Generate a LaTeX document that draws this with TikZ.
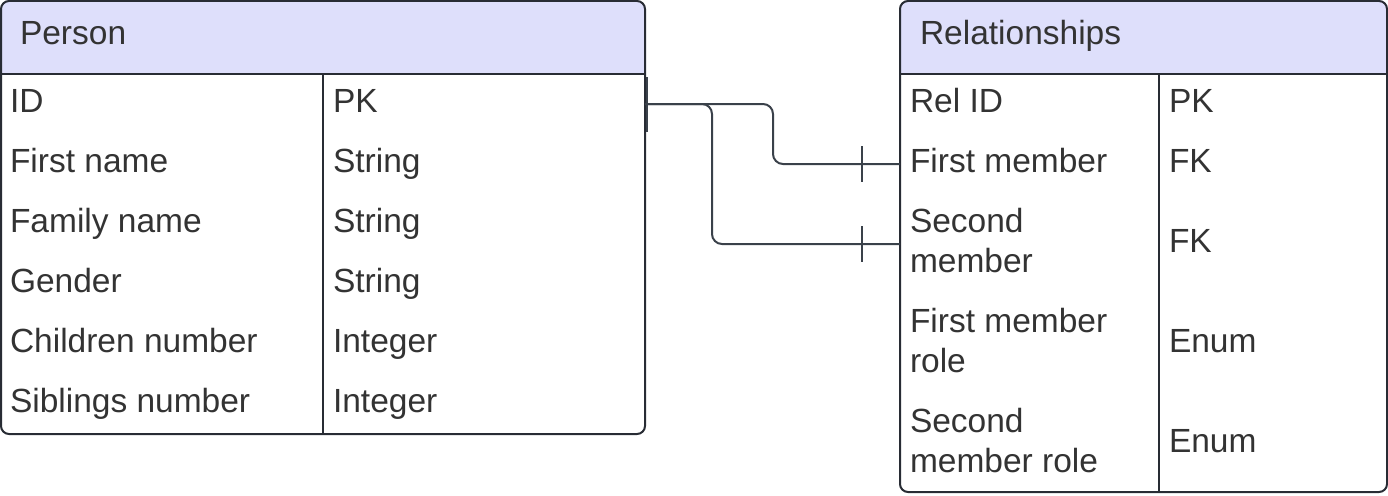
\documentclass[tikz,border=0pt]{standalone}
\usepackage{fontspec}
\setmainfont{Liberation Sans}
\definecolor{hdr}{RGB}{222,223,251}
\definecolor{ln}{RGB}{40,44,52}
\definecolor{txt}{RGB}{51,51,51}
\definecolor{cn}{RGB}{58,65,74}
\begin{document}
\begin{tikzpicture}[x=1pt,y=-1pt,
  every node/.style={font=\fontsize{33.5}{40}\selectfont, text=txt, inner sep=0pt, outer sep=0pt},
  cell/.style={anchor=base west, align=left},
  tbl/.style={draw=ln, line width=2pt, rounded corners=8pt, anchor=north west},
  rowbox/.style={anchor=north west, draw=none},
  sep/.style={draw=ln, line width=2pt},
  conn/.style={draw=cn, line width=2pt, rounded corners=10pt},
  tick/.style={draw=cn, line width=2pt}]
\useasboundingbox (0,0) rectangle (1388,495);
% header fills
\begin{scope}
  \clip[rounded corners=8pt] (1,1) rectangle (645,434);
  \fill[hdr] (1,1) rectangle (645,74);
\end{scope}
\begin{scope}
  \clip[rounded corners=8pt] (900,1) rectangle (1387,492);
  \fill[hdr] (900,1) rectangle (1387,74);
\end{scope}
% tables
\node[tbl, minimum width=644pt, minimum height=433pt] (person) at (1,1) {};
\node[tbl, minimum width=487pt, minimum height=491pt] (rel) at (900,1) {};
\draw[sep] (1,74) -- (645,74);
\draw[sep] (323,74) -- (323,434);
\draw[sep] (900,74) -- (1387,74);
\draw[sep] (1159,74) -- (1159,492);
% row anchors
\node[rowbox, minimum width=644pt, minimum height=60pt] (p-id) at (1,74) {};
\node[rowbox, minimum width=487pt, minimum height=60pt] (r-fm) at (900,134) {};
\node[rowbox, minimum width=487pt, minimum height=100pt] (r-sm) at (900,194) {};
\coordinate (x1) at (773,0);
\coordinate (x2) at (712,0);
% Person texts
\node[cell] (pt) at (20,45) {Person};
\node[cell] (p1a) at (10,112) {ID};
\node[cell] (p1b) at (333,112) {PK};
\node[cell] (p2a) at (10,172) {First name};
\node[cell] (p2b) at (333,172) {String};
\node[cell] (p3a) at (10,232) {Family name};
\node[cell] (p3b) at (333,232) {String};
\node[cell] (p4a) at (10,292) {Gender};
\node[cell] (p4b) at (333,292) {String};
\node[cell] (p5a) at (10,352) {Children number};
\node[cell] (p5b) at (333,352) {Integer};
\node[cell] (p6a) at (10,412) {Siblings number};
\node[cell] (p6b) at (333,412) {Integer};
% Relationships texts
\node[cell] (rt) at (920,45) {Relationships};
\node[cell] (r1a) at (910,112) {Rel ID};
\node[cell] (r1b) at (1169,112) {PK};
\node[cell] (r2a) at (910,172) {First member};
\node[cell] (r2b) at (1169,172) {FK};
\node[cell] (r3a) at (910,272) {Second\\member};
\node[cell] (r3b) at (1169,252) {FK};
\node[cell] (r4a) at (910,372) {First member\\role};
\node[cell] (r4b) at (1169,352) {Enum};
\node[cell] (r5a) at (910,472) {Second\\member role};
\node[cell] (r5b) at (1169,452) {Enum};
% connectors
\draw[conn] (p-id.east) -- (p-id.east -| x1) |- (r-fm.west);
\draw[conn] (p-id.east) -- (p-id.east -| x2) |- (r-sm.west);
\draw[tick] ([xshift=2pt]p-id.east) ++(0,-27) -- ++(0,55);
\draw[tick] ([xshift=-38pt]r-fm.west) ++(0,-18) -- ++(0,36);
\draw[tick] ([xshift=-38pt]r-sm.west) ++(0,-18) -- ++(0,36);
\end{tikzpicture}
\end{document}
